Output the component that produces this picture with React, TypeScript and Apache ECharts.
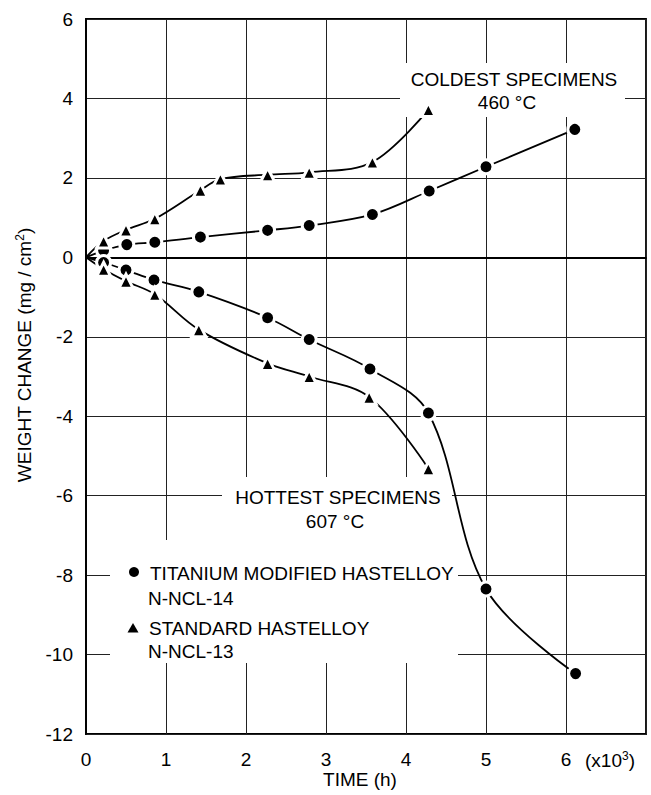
import React, { useEffect, useRef } from "react";
import * as echarts from "echarts";

// Time in units of 10^3 h, weight change in mg/cm^2
const tiColdX = [0, 0.22, 0.51, 0.86, 1.43, 2.27, 2.79, 3.58, 4.29, 5.0, 6.11];
const tiColdY = [0, 0.17, 0.32, 0.38, 0.51, 0.68, 0.8, 1.08, 1.67, 2.28, 3.22];
const stdColdX = [0, 0.22, 0.5, 0.86, 1.43, 1.68, 2.27, 2.79, 3.58, 4.28];
const stdColdY = [0, 0.41, 0.69, 0.97, 1.69, 1.97, 2.08, 2.14, 2.4, 3.72];
const tiHotX = [0, 0.22, 0.5, 0.85, 1.41, 2.27, 2.79, 3.55, 4.28, 5.0, 6.12];
const tiHotY = [0, -0.13, -0.32, -0.57, -0.87, -1.52, -2.07, -2.81, -3.92, -8.35, -10.48];
const stdHotX = [0, 0.22, 0.5, 0.86, 1.41, 2.27, 2.79, 3.54, 4.28];
const stdHotY = [0, -0.3, -0.6, -0.93, -1.82, -2.67, -3.0, -3.52, -5.32];

const xTicks = [0, 1, 2, 3, 4, 5, 6];
const FONT = "Liberation Sans, Arial, sans-serif";

function pts(xs: number[], ys: number[]) {
  return xs.map((x, i) =>
    i === 0 ? { value: [x, ys[i]], symbol: "none" } : { value: [x, ys[i]] }
  );
}

function mkSeries(name: string, xs: number[], ys: number[], symbol: string, size: number) {
  return {
    name,
    type: "line",
    data: pts(xs, ys),
    smooth: 0.35,
    symbol,
    symbolSize: size,
    showSymbol: true,
    lineStyle: { color: "#000", width: 1.8 },
    itemStyle: { color: "#000", borderColor: "#fff", borderWidth: 3 },
    z: 3,
  };
}

export default function App() {
  const ref = useRef<HTMLDivElement>(null);
  useEffect(() => {
    if (!ref.current) return;
    const chart = echarts.init(ref.current, null, { renderer: "svg" });
    const textStyle = (text: string, x: number, y: number, align = "center", size = 19) => ({
      type: "text",
      z: 5,
      style: {
        text,
        x,
        y,
        fill: "#000",
        font: `${size}px ${FONT}`,
        textAlign: align,
        textVerticalAlign: "middle",
      },
    });
    chart.setOption({
      animation: false,
      backgroundColor: "#fff",
      grid: {
        left: 86,
        right: 5,
        top: 19,
        bottom: 61,
        show: true,
        borderColor: "#000",
        borderWidth: 1.8,
      },
      xAxis: {
        type: "value",
        min: 0,
        max: 7,
        interval: 1,
        axisLine: { show: true, lineStyle: { color: "#000", width: 1.8 } },
        axisTick: { show: false },
        splitLine: { show: true, lineStyle: { color: "#222", width: 1 } },
        axisLabel: {
          margin: 16,
          color: "#000",
          fontSize: 19,
          fontFamily: FONT,
          formatter: (v: number) => (xTicks.includes(v) ? String(v) : ""),
        },
      },
      yAxis: {
        type: "value",
        min: -12,
        max: 6,
        interval: 2,
        axisLine: { show: true, lineStyle: { color: "#000", width: 1.8 } },
        axisTick: { show: false },
        splitLine: { show: true, lineStyle: { color: "#222", width: 1 } },
        axisLabel: { margin: 13, color: "#000", fontSize: 19, fontFamily: FONT },
      },
      graphic: {
        elements: [
          { type: "rect", z: 1, shape: { x: 400, y: 63, width: 225, height: 54 }, style: { fill: "#fff" } },
          { type: "rect", z: 1, shape: { x: 222, y: 477, width: 230, height: 63 }, style: { fill: "#fff" } },
          { type: "rect", z: 1, shape: { x: 110, y: 540, width: 348, height: 123 }, style: { fill: "#fff" } },
          textStyle("COLDEST SPECIMENS", 514, 79),
          textStyle("460 °C", 507, 102),
          textStyle("HOTTEST SPECIMENS", 338, 497),
          textStyle("607 °C", 335, 521),
          { type: "circle", z: 5, shape: { cx: 134, cy: 572, r: 5 }, style: { fill: "#000" } },
          textStyle("TITANIUM MODIFIED HASTELLOY", 150, 573, "left"),
          textStyle("N-NCL-14", 148, 598, "left"),
          {
            type: "polygon",
            z: 5,
            shape: { points: [[127.5, 632.5], [138.5, 632.5], [133, 623]] },
            style: { fill: "#000" },
          },
          textStyle("STANDARD HASTELLOY", 149, 628, "left"),
          textStyle("N-NCL-13", 148, 651, "left"),
          textStyle("TIME (h)", 360, 779),
          {
            type: "text",
            z: 5,
            style: {
              text: "(x10{s|3})",
              x: 610,
              y: 760,
              fill: "#000",
              font: `19px ${FONT}`,
              textAlign: "center",
              textVerticalAlign: "middle",
              rich: { s: { fontSize: 12, fontFamily: FONT, fill: "#000", padding: [0, 0, 9, 0] } },
            },
          },
          {
            type: "text",
            z: 5,
            x: 24,
            y: 355,
            rotation: Math.PI / 2,
            style: {
              text: "WEIGHT CHANGE (mg / cm{s|2})",
              x: 0,
              y: 0,
              fill: "#000",
              font: `19px ${FONT}`,
              textAlign: "center",
              textVerticalAlign: "middle",
              rich: { s: { fontSize: 12, fontFamily: FONT, fill: "#000", padding: [0, 0, 9, 0] } },
            },
          },
        ],
      },
      series: [
        mkSeries("Ti cold", tiColdX, tiColdY, "circle", 14),
        mkSeries("Std cold", stdColdX, stdColdY, "triangle", 14),
        mkSeries("Ti hot", tiHotX, tiHotY, "circle", 14),
        mkSeries("Std hot", stdHotX, stdHotY, "triangle", 14),
      ],
    });
    return () => chart.dispose();
  }, []);
  return (
    <div
      ref={ref}
      style={{ position: "absolute", left: 0, top: 0, width: 651, height: 795 }}
    />
  );
}
